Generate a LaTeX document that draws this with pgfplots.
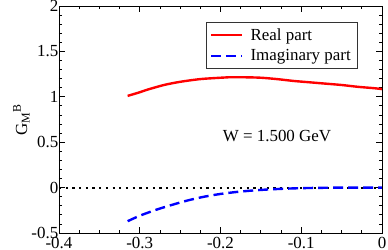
\documentclass[border=0pt]{standalone}
\usepackage{pgfplots}
\pgfplotsset{compat=1.18}
\usepackage{fontspec}
\setmainfont{Liberation Serif}
\begin{document}
\begin{tikzpicture}
\path[use as bounding box] (-59bp,-17bp) rectangle (329bp,233bp);
\begin{axis}[
  at={(0,0)}, anchor=south west,
  scale only axis, width=323bp, height=227bp,
  xmin=-0.4, xmax=0, ymin=-0.5, ymax=2,
  xtick={-0.4,-0.3,-0.2,-0.1,0},
  xticklabels={-0.4,-0.3,-0.2,-0.1,0},
  ytick={-0.5,0,0.5,1,1.5,2},
  yticklabels={-0.5,0,0.5,1,1.5,2},
  minor x tick num=3, minor y tick num=4,
  tick align=inside, tick pos=both,
  major tick length=6bp, minor tick length=3.3bp,
  every tick/.style={black, line width=0.8pt},
  axis line style={line width=1pt},
  tick label style={font=\fontsize{17}{19}\selectfont},
  xticklabel style={inner sep=0pt, anchor=north, yshift=-4.5bp},
  yticklabel style={inner sep=0pt, anchor=east, xshift=-0.5bp},
  ylabel={G\textsubscript{M}\textsuperscript{B}},
  ylabel style={at={(axis description cs:-0.099,0.5)}, anchor=base, font=\fontsize{17}{19}\selectfont},
  legend style={at={(rel axis cs:0.9226,0.9295)}, anchor=north east,
    draw=black!80, line width=0.5pt, font=\fontsize{17}{19}\selectfont,
    inner xsep=4bp, inner ysep=4bp, row sep=4bp, column sep=5bp,
    nodes={inner sep=2bp}},
  legend cell align=left,
  legend image code/.code={\draw[#1] (0bp,0bp) -- (31bp,0bp);},
  clip=false,
]
\addplot[black, line width=2.2bp, dash pattern=on 2.2bp off 4.5bp, forget plot] coordinates {(-0.4,0) (0,0)};
\addplot[red, line width=2.4bp, smooth] coordinates {
(-0.315,1.01) (-0.30,1.05) (-0.29,1.08) (-0.27,1.13) (-0.25,1.165) (-0.225,1.195)
(-0.20,1.21) (-0.19,1.215) (-0.17,1.215) (-0.15,1.21) (-0.13,1.195) (-0.11,1.175)
(-0.09,1.16) (-0.07,1.145) (-0.05,1.13) (-0.03,1.11) (-0.01,1.095) (0,1.085)};
\addlegendentry{Real part}
\addplot[blue, line width=2.4bp, dash pattern=on 10bp off 5bp, smooth] coordinates {
(-0.315,-0.37) (-0.30,-0.31) (-0.28,-0.245) (-0.26,-0.19) (-0.24,-0.14) (-0.22,-0.10)
(-0.20,-0.07) (-0.18,-0.048) (-0.16,-0.032) (-0.14,-0.02) (-0.12,-0.012) (-0.10,-0.006)
(-0.08,-0.003) (-0.06,-0.001) (-0.04,0) (0,0)};
\addlegendentry{Imaginary part}
\node[font=\fontsize{17}{19}\selectfont] at (axis cs:-0.130,0.568) {W = 1.500 GeV};
\end{axis}
\end{tikzpicture}
\end{document}
